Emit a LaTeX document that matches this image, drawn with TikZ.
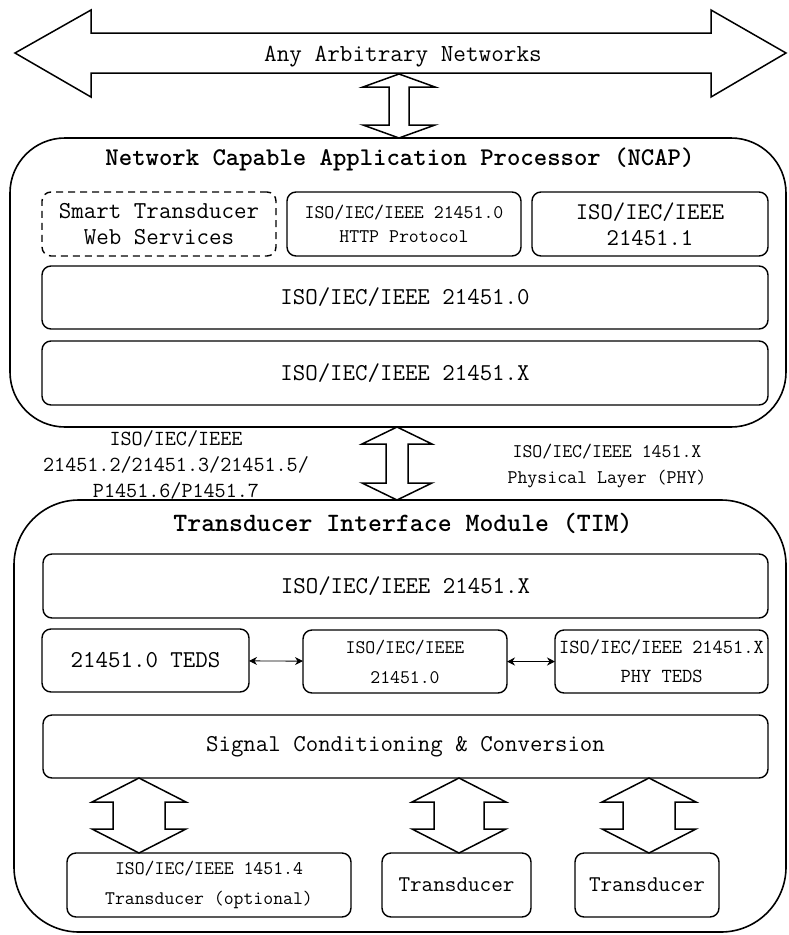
\documentclass[tikz,border=0pt]{standalone}
\usepackage{fontspec}
\usetikzlibrary{arrows.meta}

% typewriter text at a given size and baseline skip
\newcommand{\fsz}[2]{\ttfamily\fontsize{#1}{#2}\selectfont}

% vertical double-headed block arrow: centre x, top y, bottom y,
% head half width, shaft half width, head length
\newcommand{\fatvarrow}[6]{%
  \draw[fatline] (#1,#2) -- ({#1+#4},{#2+#6}) -- ({#1+#5},{#2+#6})
    -- ({#1+#5},{#3-#6}) -- ({#1+#4},{#3-#6}) -- (#1,#3)
    -- ({#1-#4},{#3-#6}) -- ({#1-#5},{#3-#6}) -- ({#1-#5},{#2+#6})
    -- ({#1-#4},{#2+#6}) -- cycle;}

\tikzset{
  blk/.style={draw, line width=1.4pt, rounded corners=9pt, inner sep=0pt,
    outer sep=0pt, align=center},
  dashblk/.style={blk, dash pattern=on 7pt off 5pt},
  frame/.style={draw, line width=1.6pt, inner sep=0pt, outer sep=0pt},
  fatline/.style={draw, fill=white, line width=1.5pt, line join=miter},
  txt/.style={inner sep=0pt, align=center},
  link/.style={{Stealth[length=8pt,width=8pt]}-{Stealth[length=8pt,width=8pt]}, line width=0.9pt}
}

\begin{document}
\begin{tikzpicture}[x=1pt, y=-1pt]
\useasboundingbox (0,0) rectangle (788,935);

% ---- network arrow ----
\draw[fatline] (15,53) -- (91,10) -- (91,33) -- (711,33) -- (711,10) -- (786,53)
  -- (711,97) -- (711,73) -- (91,73) -- (91,97) -- cycle;
\node[txt, font=\fsz{24.5}{28}] (net) at (403,56.5) {Any Arbitrary Networks};

% ---- NCAP ----
\node[frame, rounded corners=55pt, minimum width=776pt, minimum height=289pt] (ncap) at (398,282.5) {};
\node[txt, font=\fsz{25.5}{28}\bfseries] (ncaptitle) at (400,159.5)
  {Network Capable Application Processor (NCAP)};
\node[dashblk, minimum width=234pt, minimum height=64pt, font=\fsz{24.3}{26}] (ws) at (159,224)
  {Smart Transducer\\Web Services};
\node[blk, minimum width=234pt, minimum height=64pt, font=\fsz{19.3}{24}] (http) at (404,224)
  {ISO/IEC/IEEE 21451.0\\HTTP Protocol};
\node[blk, minimum width=236pt, minimum height=64pt, font=\fsz{24}{26}] (dot1) at (650,224)
  {ISO/IEC/IEEE\\21451.1};
\node[blk, minimum width=726pt, minimum height=63pt, font=\fsz{24.2}{26}] (n0) at (405,297.5)
  {ISO/IEC/IEEE 21451.0};
\node[blk, minimum width=726pt, minimum height=64pt, font=\fsz{24.2}{26}] (nx) at (405,373)
  {ISO/IEC/IEEE 21451.X};

% ---- links between network, NCAP and TIM ----
\fatvarrow{399}{74}{138}{36}{10}{13}
\fatvarrow{397}{427}{500}{35}{11}{17}

\node[txt, font=\fsz{21.5}{26}] (phylist) at (176,464.5)
  {ISO/IEC/IEEE\\21451.2/21451.3/21451.5/\\P1451.6/P1451.7};
\node[txt, font=\fsz{19.3}{26}] (phylayer) at (607,466)
  {ISO/IEC/IEEE 1451.X\\Physical Layer (PHY)};

% ---- TIM ----
\node[frame, rounded corners=65pt, minimum width=772pt, minimum height=432pt] (tim) at (400,716) {};
\node[txt, font=\fsz{26.5}{28}\bfseries] (timtitle) at (403,523)
  {Transducer Interface Module (TIM)};
\node[blk, minimum width=725pt, minimum height=64pt, font=\fsz{24.2}{26}] (tx) at (405.5,586)
  {ISO/IEC/IEEE 21451.X};
\node[blk, minimum width=207pt, minimum height=63pt, font=\fsz{24.2}{26}] (teds) at (145.5,660.5)
  {21451.0 TEDS};
\node[blk, minimum width=204pt, minimum height=63pt, font=\fsz{19.2}{30}] (t0) at (405,661.5)
  {ISO/IEC/IEEE\\21451.0};
\node[blk, minimum width=213pt, minimum height=63pt, font=\fsz{19.9}{29}] (phy) at (661.5,661.5)
  {ISO/IEC/IEEE 21451.X\\PHY TEDS};
\draw[link] (teds) -- (t0);
\draw[link] (t0) -- (phy);

\node[blk, minimum width=725pt, minimum height=63pt, font=\fsz{24.2}{26}] (sig) at (405.5,746.5)
  {Signal Conditioning \& Conversion};

\fatvarrow{139}{778}{853}{47}{26}{24}
\fatvarrow{459}{778}{853}{47}{25}{24}
\fatvarrow{649}{778}{853}{47}{26}{24}

\node[blk, minimum width=284pt, minimum height=64pt, font=\fsz{19.2}{30}] (opt) at (209,885)
  {ISO/IEC/IEEE 1451.4\\Transducer (optional)};
\node[blk, minimum width=149pt, minimum height=64pt, font=\fsz{22.5}{26}] (trA) at (456.5,885)
  {Transducer};
\node[blk, minimum width=144pt, minimum height=64pt, font=\fsz{22.5}{26}] (trB) at (647,885)
  {Transducer};
\end{tikzpicture}
\end{document}
